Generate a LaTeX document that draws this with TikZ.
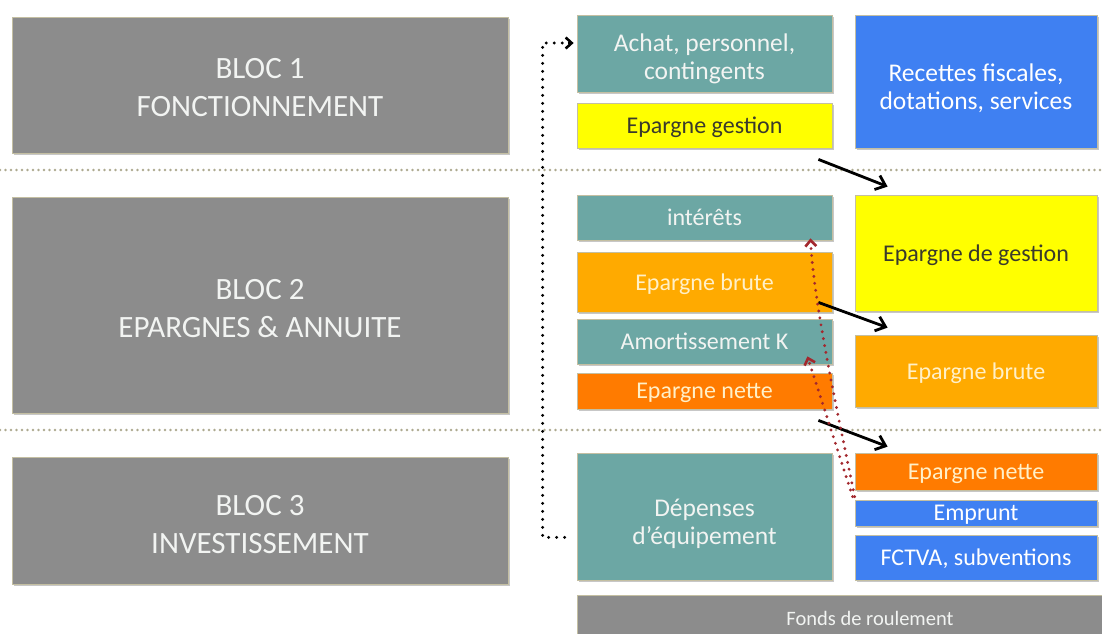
\documentclass[tikz,border=0pt]{standalone}
\usepackage{fontspec}
\setmainfont{Carlito}
\usetikzlibrary{arrows.meta,shadows,calc}
\definecolor{blocgray}{HTML}{8C8C8C}
\definecolor{tealc}{HTML}{6CA7A4}
\definecolor{yellowc}{HTML}{FFFF00}
\definecolor{bluec}{HTML}{3F80F2}
\definecolor{orangec}{HTML}{FFAA00}
\definecolor{dorangec}{HTML}{FF7B00}
\definecolor{sepc}{HTML}{ADA98F}
\definecolor{redc}{HTML}{A3282E}
\definecolor{edgec}{HTML}{C4BFA2}
\definecolor{lighttxt}{HTML}{F2F4F2}
\definecolor{darktxt}{HTML}{3A3A2C}
\definecolor{ortxt}{HTML}{FFF0C8}
\newcommand\firstlinestrut[1]{\rule{0pt}{#1}}
\begin{document}
\begin{tikzpicture}[x=1pt,y=-1pt,
  box/.style={rectangle, inner sep=0pt, align=center, draw=edgec, line width=0.8pt, text depth=0pt,
    drop shadow={shadow xshift=1.5pt, shadow yshift=-1.5pt, fill=black, opacity=0.22}},
  bloc/.style={box, fill=blocgray, text=lighttxt, font=\fontsize{31}{38}\selectfont,
    minimum width=496pt},
  mid/.style={box, minimum width=255pt, font=\fontsize{24}{28}\selectfont},
  rgt/.style={box, minimum width=242pt, font=\fontsize{24}{28}\selectfont},
  twoline/.style={font=\fontsize{25.5}{28}\selectfont},
  teal/.style={fill=tealc, text=lighttxt},
  yel/.style={fill=yellowc, text=darktxt},
  blu/.style={fill=bluec, text=white},
  ora/.style={fill=orangec, text=ortxt},
  dora/.style={fill=dorangec, text=ortxt},
  sepline/.style={sepc, line width=2.6pt, dash pattern=on 0pt off 5.5pt, line cap=round},
  blackdots/.style={black, line width=3.3pt, dash pattern=on 0pt off 8pt, line cap=round},
  blk/.style={black, line width=2.8pt, -{Straight Barb[length=9pt,width=15pt,line width=2.8pt]}},
  reddots/.style={redc, line width=3.2pt, dash pattern=on 0pt off 7pt, line cap=round,
    -{Straight Barb[length=6pt,width=11pt,line width=2.6pt, line cap=butt]}}
]
\useasboundingbox (0,0) rectangle (1102,633);
\fill[white] (0,0) rectangle (1102,633);

% separators
\coordinate (s1l) at (0,170); \coordinate (s1r) at (1102,170);
\coordinate (s2l) at (0,430); \coordinate (s2r) at (1102,430);
\draw[sepline] (s1l) -- (s1r);
\draw[sepline] (s2l) -- (s2r);

% left blocs
\node[bloc, minimum height=136pt] (b1) at (260,85) {\firstlinestrut{25pt}BLOC 1\\FONCTIONNEMENT};
\node[bloc, minimum height=216pt] (b2) at (260,305) {\firstlinestrut{27pt}BLOC 2\\EPARGNES \& ANNUITE};
\node[bloc, minimum height=127pt] (b3) at (260,520.5) {\firstlinestrut{27pt}BLOC 3\\INVESTISSEMENT};

% middle column
\node[mid, teal, twoline, minimum height=77pt] (achat) at (704.5,53.5) {\firstlinestrut{23pt}Achat, personnel,\\contingents};
\node[mid, yel, minimum height=45pt] (eg) at (704.5,125.5) {Epargne gestion};
\node[mid, teal, minimum height=45pt] (int) at (704.5,217.5) {intérêts};
\node[mid, ora, minimum height=60pt] (eb) at (704.5,282) {Epargne brute};
\node[mid, teal, minimum height=45pt] (am) at (704.5,341.5) {Amortissement K};
\node[mid, dora, minimum height=36pt] (en) at (704.5,391) {Epargne nette};
\node[mid, teal, twoline, minimum height=127pt] (dep) at (704.5,516.5) {\firstlinestrut{27pt}Dépenses\\d’équipement};

% right column
\node[rgt, blu, twoline, minimum height=133pt] (rec) at (976,81.5) {\firstlinestrut{28pt}Recettes fiscales,\\dotations, services};
\node[rgt, yel, minimum height=116pt] (edg) at (976,253) {Epargne de gestion};
\node[rgt, ora, minimum height=72pt] (ebr) at (976,371) {Epargne brute};
\node[rgt, dora, minimum height=37pt] (ent) at (976,471.5) {Epargne nette};
\node[rgt, blu, minimum height=26pt] (emp) at (976,513) {Emprunt};
\node[rgt, blu, minimum height=45pt] (fct) at (976,557.5) {FCTVA, subventions};

% bottom
\node[box, fill=blocgray, text=lighttxt, minimum width=586pt, minimum height=46pt,
  font=\fontsize{20.5}{24}\selectfont] (fdr) at (870,618) {Fonds de roulement};

% black dotted loop
\coordinate (dstart) at ($(dep.south west)+(-12,-43)$);
\coordinate (dend) at ($(achat.west)+(-3,-10.5)$);
\draw[blackdots] (dstart) -- ++(-22,0) |- (dend);
\draw[black, line width=2.6pt, -{Straight Barb[length=6pt,width=11pt,line width=2.6pt]}]
  ($(dend)+(-6,0)$) -- (dend);

% black arrows
\draw[blk] ($(eg.south east)+(-14,11)$) -- ($(edg.north west)+(33,-8)$);
\draw[blk] ($(eb.south east)+(-14,-10)$) -- ($(ebr.north west)+(33,-7)$);
\draw[blk] ($(en.south east)+(-14,11)$) -- ($(ent.north west)+(33,-6)$);

% red dotted arrows
\draw[reddots] ($(emp.north west)+(0,-3)$) .. controls +(-16,-80) and +(4,70) .. ($(int.south east)+(-22,-2)$);
\draw[reddots] ($(emp.north west)+(-2,-3)$) -- ($(am.south east)+(-25,-8)$);
\end{tikzpicture}
\end{document}
